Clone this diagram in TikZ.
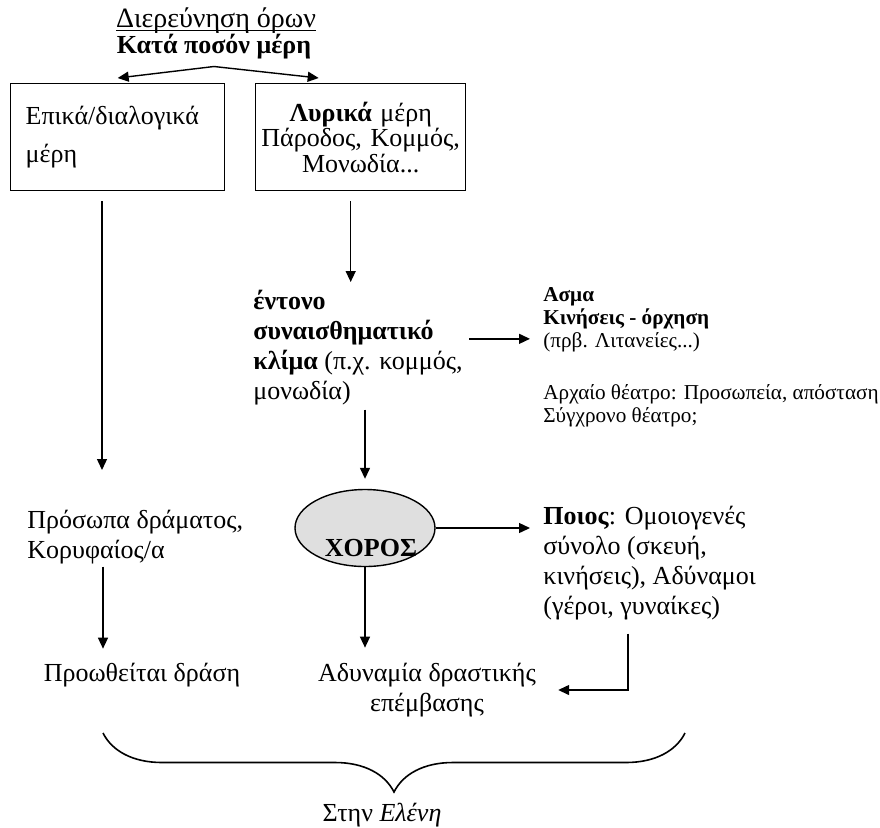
\documentclass[tikz,border=0pt]{standalone}
\usepackage{fontspec}
\setmainfont{Liberation Serif}
\usetikzlibrary{arrows.meta,shapes.geometric,decorations.pathreplacing}

\begin{document}
\begin{tikzpicture}[x=0.5pt,y=-0.5pt,
    font=\fontsize{13}{15}\selectfont,
    box/.style={draw, line width=0.7pt, anchor=north west, inner xsep=7.5pt,
        minimum height=53.5pt, align=left, font=\fontsize{13}{12.8}\selectfont},
    txt/.style={anchor=north west, inner sep=0pt, align=left},
    small/.style={txt, font=\fontsize{10.6}{11.5}\selectfont},
    arr/.style={-{Triangle[length=5.5pt,width=5pt]}, line width=0.7pt}]

    \useasboundingbox (0,0) rectangle (880,827);

    % top: heading and the two boxes
    \node[font=\fontsize{14}{15}\selectfont] (title) at (216,20)
        {\underline{\raisebox{0pt}[\height][0pt]{Διερεύνηση όρων}}};
    \node (kata) at (214,47) {\textbf{Κατά ποσόν μέρη}};
    \node[box, text width=92pt] (epika) at (10,83) {Επικά/διαλογικά\\[6pt]μέρη};
    \node[box, text width=100pt, inner xsep=2.5pt, align=center] (lyrika) at (255,83)
        {\textbf{Λυρικά} μέρη\\Πάροδος, Κομμός,\\Μονωδία...};

    % middle
    \node[txt] (entono) at (253,290) {\textbf{έντονο}\\\textbf{συναισθηματικό}\\\textbf{κλίμα} (π.χ. κομμός,\\μονωδία)};
    \node[small] (asma) at (543,287) {\textbf{Ασμα}\\\textbf{Κινήσεις - όρχηση}\\(πρβ. Λιτανείες...)};
    \node[small] (theatro) at (543,384) {Αρχαίο θέατρο: Προσωπεία, απόσταση\\Σύγχρονο θέατρο;};
    \node[ellipse, draw, fill=gray!25, line width=0.7pt, minimum width=70pt,
        minimum height=38.5pt, inner sep=0pt,
        label={[xshift=3pt,yshift=-10pt]center:\textbf{ΧΟΡΟΣ}}] (xoros) at (365,528) {};
    \node[txt] (poios) at (543,506) {\textbf{Ποιος}: Ομοιογενές\\σύνολο (σκευή,\\κινήσεις), Αδύναμοι\\(γέροι, γυναίκες)};
    \node[txt] (prosopa) at (27,510) {Πρόσωπα δράματος,\\Κορυφαίος/α};

    % bottom
    \node[inner sep=0pt] (proothei) at (142,675) {Προωθείται δράση};
    \node[inner sep=0pt, align=center] (adyn) at (427,690) {Αδυναμία δραστικής\\επέμβασης};
    \node[inner sep=0pt] (elene) at (382,815) {Στην \textit{Ελένη}};
    \coordinate (bl) at (103,733);
    \coordinate (br) at (685,733);

    \draw[arr] (kata.south) -- ([yshift=2.5pt]epika.north);
    \draw[arr] (kata.south) -- ([xshift=-21pt,yshift=2.5pt]lyrika.north);
    \draw[arr, shorten <=5pt, shorten >=20pt] ([xshift=46pt]epika.south west) -- ([xshift=46pt]epika.south west |- prosopa.north);
    \draw[arr, shorten <=5pt, shorten >=4pt] ([xshift=-5pt]lyrika.south) -- ([xshift=-5pt]lyrika.south |- entono.north);
    \draw[arr, shorten <=3pt, shorten >=6.5pt] ([yshift=4.5pt]entono.east) -- ([yshift=4.5pt]entono.east -| asma.west);
    \draw[arr, shorten <=2pt] (entono.south -| xoros.north) -- ([yshift=5pt]xoros.north);
    \draw[arr, shorten >=6.5pt] (xoros.east) -- (xoros.east -| poios.west);
    \draw[arr, shorten >=7.5pt] (xoros.south) -- (xoros.south |- adyn.north);
    \draw[arr, shorten <=6.5pt] ([xshift=42.5pt]poios.south west) |- ([xshift=11pt]adyn.east);
    \draw[arr, shorten <=1pt, shorten >=7pt] ([xshift=38pt]prosopa.south west) -- ([xshift=38pt]prosopa.south west |- proothei.north);
    \draw[decorate, decoration={brace, mirror, amplitude=29.5pt}, line width=0.8pt] (bl) -- (br);

\end{tikzpicture}
\end{document}
